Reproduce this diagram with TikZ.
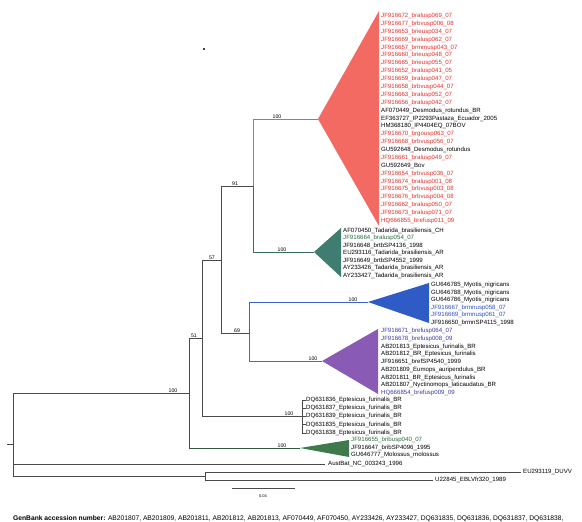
\documentclass[tikz,border=0pt]{standalone}
\usepackage{fontspec}
\setmainfont{Liberation Sans}
\definecolor{treegray}{HTML}{4A4A4A}
\definecolor{redfill}{HTML}{F26A62}
\definecolor{redline}{HTML}{EE5A50}
\definecolor{redtxt}{HTML}{E5302A}
\definecolor{tealfill}{HTML}{3F7D70}
\definecolor{tealline}{HTML}{3A6B60}
\definecolor{grtxt}{HTML}{2C6A3E}
\definecolor{bluefill}{HTML}{2F5BC6}
\definecolor{blueline}{HTML}{3D60C4}
\definecolor{bluetxt}{HTML}{2D4FC6}
\definecolor{purpfill}{HTML}{8A5BB4}
\definecolor{purpline}{HTML}{6F58B8}
\definecolor{purptxt}{HTML}{3B3AA2}
\definecolor{molfill}{HTML}{3E7A4E}
\definecolor{molline}{HTML}{335A40}
\newcommand{\lblfont}{\fontsize{6.1}{7}\selectfont}
\newcommand{\bsfont}{\fontsize{5.2}{6}\selectfont}
\tikzset{
  leaf/.style={anchor=west, inner sep=0pt, font=\lblfont, text=black},
  bs/.style={anchor=south, inner sep=0.6pt, font=\bsfont},
  br/.style={line width=0.9pt, draw=treegray},
}
\begin{document}
\begin{tikzpicture}[x=1pt,y=-1pt]
\useasboundingbox (0,0) rectangle (582,522);
\fill[white] (0,0) rectangle (582,522);
% internal nodes
\coordinate (R) at (13,444);
\coordinate (n189) at (189,393);
\coordinate (n202) at (202,338);
\coordinate (n221) at (221,260);
\coordinate (nB) at (253,186);
\coordinate (nC) at (249,333);
\coordinate (nDQ) at (302,416);
\coordinate (n205) at (205,476);
\coordinate (aRed) at (318,119);
\coordinate (aTea) at (314,252);
\coordinate (aBlu) at (368,302);
\coordinate (aPur) at (322,361);
\coordinate (aMol) at (300,448);
\coordinate (eAus) at (325,464);
\coordinate (eEU) at (521,472);
\coordinate (eU22) at (433,480);
\coordinate (stub) at (7,444);
% branches
\draw[br] (stub) -- (R);
\draw[br] (R) |- (n189);
\draw[br] (R) |- (eAus);
\draw[br] (R) |- (n205);
\draw[br] (n205) |- (eEU);
\draw[br] (n205) |- (eU22);
\draw[br] (n189) |- (n202);
\draw[br,draw=molline] (n189) |- (aMol);
\draw[br] (n202) |- (n221);
\draw[br] (n202) |- (nDQ);
\draw[br] (n221) |- (nB);
\draw[br] (n221) |- (nC);
\draw[br,draw=redline] (nB) |- (aRed);
\draw[br,draw=tealline] (nB) |- (aTea);
\draw[br,draw=blueline] (nC) |- (aBlu);
\draw[br,draw=purpline] (nC) |- (aPur);
% collapsed clades
\fill[redfill] (aRed) -- (379,11) -- (379,226) -- cycle;
\fill[tealfill] (aTea) -- (341,228) -- (341,277) -- cycle;
\fill[bluefill] (aBlu) -- (429,283) -- (429,323) -- cycle;
\fill[purpfill] (aPur) -- (378,329) -- (378,394) -- cycle;
\fill[molfill] (aMol) -- (349,440) -- (349,457) -- cycle;
% DQ bracket
\draw[br] (nDQ |- 0,400) -- (nDQ |- 0,433);
\foreach \t [count=\i from 0] in {DQ631836\_Eptesicus\_furinalis\_BR,DQ631837\_Eptesicus\_furinalis\_BR,DQ631839\_Eptesicus\_furinalis\_BR,DQ631835\_Eptesicus\_furinalis\_BR,DQ631838\_Eptesicus\_furinalis\_BR}{
  \node[leaf] (dq\i) at (306,400+8.2*\i) {\t};
  \draw[line width=0.5pt,treegray] (302,400+8.2*\i) -- (dq\i.west);
}
% red labels
\foreach \t/\c [count=\i from 0] in {
JF916672\_bralusp069\_07/redtxt, JF916677\_brbvusp006\_08/redtxt, JF916653\_brieusp034\_07/redtxt,
JF916669\_bralusp062\_07/redtxt, JF916657\_brmmusp043\_07/redtxt, JF916660\_brieusp048\_07/redtxt,
JF916665\_brieusp055\_07/redtxt, JF916652\_bralusp041\_05/redtxt, JF916659\_bralusp047\_07/redtxt,
JF916658\_brbvusp044\_07/redtxt, JF916663\_bralusp052\_07/redtxt, JF916656\_bralusp042\_07/redtxt,
AF070449\_Desmodus\_rotundus\_BR/black, EF363727\_IP2293Pastaza\_Ecuador\_2005/black,
HM368180\_IP4404EQ\_07BOV/black, JF916670\_brgousp063\_07/redtxt, JF916668\_brbvusp056\_07/redtxt,
GU592648\_Desmodus\_rotundus/black, JF916661\_bralusp049\_07/redtxt, GU592649\_Bov/black,
JF916654\_brbvusp036\_07/redtxt, JF916674\_bralusp001\_08/redtxt, JF916675\_brbvusp003\_08/redtxt,
JF916676\_brbvusp004\_08/redtxt, JF916662\_bralusp050\_07/redtxt, JF916673\_bralusp071\_07/redtxt,
HQ666855\_brefusp011\_09/redtxt}{
  \node[leaf,text=\c] (red\i) at (381,16+7.88*\i) {\t};
}
% teal labels
\foreach \t/\c [count=\i from 0] in {
AF070450\_Tadarida\_brasiliensis\_CH/black, JF916664\_bralusp054\_07/grtxt,
JF916648\_brtbSP4136\_1998/black, EU293116\_Tadarida\_brasiliensis\_AR/black,
JF916649\_brtbSP4552\_1999/black, AY233426\_Tadarida\_brasiliensis\_AR/black,
AY233427\_Tadarida\_brasiliensis\_AR/black}{
  \node[leaf,text=\c] (tea\i) at (343,231+7.4*\i) {\t};
}
% blue labels
\foreach \t/\c [count=\i from 0] in {
GU646785\_Myotis\_nigricans/black, GU646788\_Myotis\_nigricans/black,
GU646786\_Myotis\_nigricans/black, JF916667\_brmnusp058\_07/bluetxt,
JF916669\_brmnusp061\_07/bluetxt, JF916650\_brmnSP4115\_1998/black}{
  \node[leaf,text=\c] (blu\i) at (431,285+7.5*\i) {\t};
}
% purple labels
\foreach \t/\c [count=\i from 0] in {
JF916671\_brefusp064\_07/purptxt, JF916678\_brefusp008\_09/purptxt,
AB201813\_Eptesicus\_furinalis\_BR/black, AB201812\_BR\_Eptesicus\_furinalis/black,
JF916651\_brefSP4540\_1999/black, AB201809\_Eumops\_auripendulus\_BR/black,
AB201811\_BR\_Eptesicus\_furinalis/black, AB201807\_Nyctinomops\_laticaudatus\_BR/black,
HQ666854\_brefusp009\_09/purptxt}{
  \node[leaf,text=\c] (pur\i) at (381,331+7.75*\i) {\t};
}
% molossus labels
\foreach \t/\c [count=\i from 0] in {
JF916655\_bribusp040\_07/grtxt, JF916647\_bribSP4096\_1995/black,
GU646777\_Molossus\_molossus/black}{
  \node[leaf,text=\c] (mol\i) at (351,440+7.6*\i) {\t};
}
% outgroup labels
\node[leaf] (aus) at (328,464) {AustBat\_NC\_003243\_1996};
\node[leaf] (eu) at (523,472) {EU293119\_DUVV};
\node[leaf] (u22) at (435,480) {U22845\_EBLVfr320\_1989};
% bootstrap values
\node[bs] (b1) at (277,119) {100};
\node[bs] (b2) at (235,186) {91};
\node[bs] (b3) at (282,252) {100};
\node[bs] (b4) at (212,260) {57};
\node[bs] (b5) at (237,333) {69};
\node[bs] (b6) at (353,302) {100};
\node[bs] (b7) at (313,361) {100};
\node[bs] (b8) at (194,338) {51};
\node[bs] (b9) at (173,393) {100};
\node[bs] (b10) at (289,416) {100};
\node[bs] (b11) at (282,448) {100};
% marker dot
\fill[black] (204,49) circle (1.1);
% scale bar
\coordinate (s1) at (232,488);
\coordinate (s2) at (295,488);
\draw[line width=0.6pt,treegray] (s1) -- (s2);
\node[font=\fontsize{4}{5}\selectfont, inner sep=0pt] (scl) at (263,496) {0.04};
% footer
\node[anchor=base west, inner sep=0pt, font=\fontsize{6.7}{7}\selectfont] (foot) at (13,520) {\textbf{GenBank accession number:} AB201807, AB201809, AB201811, AB201812, AB201813, AF070449, AF070450, AY233426, AY233427, DQ631835, DQ631836, DQ631837, DQ631838,};
\end{tikzpicture}
\end{document}
